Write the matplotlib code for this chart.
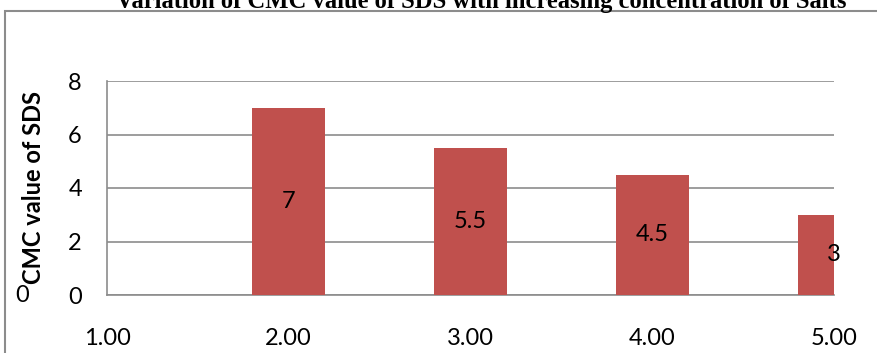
import matplotlib.pyplot as plt
from matplotlib.patches import Rectangle

# Salt concentration and CMC of SDS
conc = [1, 2, 3, 4, 5]
cmc = [0, 7, 5.5, 4.5, 3]
cmc_labels = ["0", "7", "5.5", "4.5", "3"]
xticks = [1, 2, 3, 4, 5]
xtick_labels = ["1.00", "2.00", "3.00", "4.00", "5.00"]
yticks = [0, 2, 4, 6, 8]

W, H = 878, 353
fig = plt.figure(figsize=(W / 100, H / 100), dpi=100)

# outer chart frame (runs off the right and bottom edges)
fig.patches.append(Rectangle((5 / W, -0.1), 1.2, (H - 11) / H + 0.1, transform=fig.transFigure,
                             fill=False, edgecolor="#8c8c8c", linewidth=1.5))

fig.text(481 / W, (H - 8) / H, "Variation of CMC value of SDS with increasing concentration of Salts",
         ha="center", va="baseline", fontsize=17.7, fontweight="bold", family="Liberation Serif")

ax = fig.add_axes([107 / W, (H - 295) / H, (834 - 107) / W, (295 - 81) / H])
ax.bar(conc, cmc, width=0.4, color="#C0504D", zorder=3)
ax.set_xlim(1, 5)
ax.set_ylim(0, 8)
ax.set_xticks(xticks)
ax.set_xticklabels(xtick_labels)
ax.set_yticks(yticks)
ax.tick_params(length=0, labelsize=17, pad=18)
ax.tick_params(axis="x", pad=24)
for lab in ax.get_xticklabels() + ax.get_yticklabels():
    lab.set_family("Lato")
ax.grid(axis="y", color="#8c8c8c", linewidth=1.2, zorder=0)
for side in ["top", "right"]:
    ax.spines[side].set_visible(False)
for side in ["left", "bottom"]:
    ax.spines[side].set_color("#8c8c8c")
    ax.spines[side].set_linewidth(1.2)

for x, v, s in zip(conc, cmc, cmc_labels):
    if v == 0:
        ax.annotate(s, (x, v), xytext=(-85, 0), textcoords="offset pixels", ha="center", va="center",
                    fontsize=17, family="Lato", annotation_clip=False)
    else:
        ax.text(x, v / 2, s, ha="center", va="center", fontsize=17, family="Lato", zorder=4)

fig.text(34 / W, (H - 188) / H, "CMC value of SDS", rotation=90, ha="center", va="center",
         fontsize=17, fontweight="bold", family="Lato")

fig.savefig("out.png", dpi=100)
